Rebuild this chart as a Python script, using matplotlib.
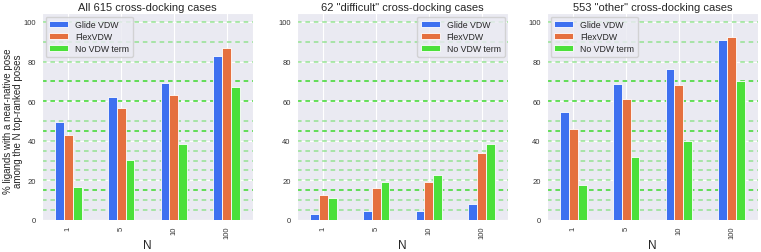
import matplotlib
matplotlib.use("Agg")
import matplotlib.pyplot as plt
import seaborn as sns
import numpy as np

sns.set_style("darkgrid")
plt.rcParams['font.family'] = ['Liberation Sans', 'DejaVu Sans']

n_labels = ["1", "5", "10", "100"]
series_names = ["Glide VDW", "FlexVDW", "No VDW term"]
titles = ["All 615 cross-docking cases", '62 "difficult" cross-docking cases',
          '553 "other" cross-docking cases']

all_glide = [49.5, 62, 69, 83]
all_flex = [43, 56.5, 63, 87]
all_novdw = [16.5, 30.5, 38.5, 67]

diff_glide = [3, 4.5, 4.5, 8]
diff_flex = [12.5, 16, 19, 34]
diff_novdw = [11, 19, 22.5, 38.5]

oth_glide = [54.5, 68.5, 76, 91]
oth_flex = [46, 61, 68, 92.5]
oth_novdw = [17.5, 32, 40, 70]

light_levels = [5, 10, 20, 25, 30, 35, 40, 50, 80, 90, 100]
dark_levels = [15, 45, 60, 70]

colors = ["#3E70F0", "#E5703F", "#4BE03A"]

panels = [(all_glide, all_flex, all_novdw), (diff_glide, diff_flex, diff_novdw),
          (oth_glide, oth_flex, oth_novdw)]
legend_locs = ["upper left", "upper right", "upper left"]

fig = plt.figure(figsize=(7.61, 2.53), dpi=100)
lefts = [42, 297, 547]
for k, (data, title) in enumerate(zip(panels, titles)):
    ax = fig.add_axes([lefts[k] / 761, 32 / 253, 211 / 761, 207 / 253])
    x = np.arange(len(n_labels))
    w = 0.5 / 3
    for j, (vals, name) in enumerate(zip(data, series_names)):
        ax.bar(x + (j - 1) * w, vals, w, color=colors[j], label=name,
               edgecolor="white", linewidth=0.6, zorder=3)
    for lv in light_levels:
        ax.axhline(lv, color="#7FE07A", ls=(0, (3, 2.5)), lw=1.1, alpha=0.8, zorder=1)
    for lv in dark_levels:
        ax.axhline(lv, color="#3CD82C", ls=(0, (3, 2.5)), lw=1.1, zorder=1)
    ax.set_xlim(-0.5, 3.5)
    ax.set_ylim(0, 104.5)
    ax.set_xticks(x)
    ax.set_xticklabels(n_labels, rotation=90)
    ax.set_yticks([0, 20, 40, 60, 80, 100])
    ax.tick_params(axis="both", labelsize=5.5, colors="#333333", length=0)
    ax.tick_params(axis="y", pad=4.5)
    ax.tick_params(axis="x", pad=4)
    ax.set_title(title, fontsize=8, pad=2)
    ax.set_xlabel("N", fontsize=8.5)
    ax.xaxis.set_label_coords(0.5, -0.09)
    if k == 0:
        ax.set_ylabel("% ligands with a near-native pose\namong the N top-ranked poses",
                      fontsize=7, linespacing=1.05)
        ax.yaxis.set_label_coords(-0.09, 0.48)
    ax.legend(loc=legend_locs[k], fontsize=6.3, frameon=True, handlelength=2.1,
              handleheight=0.7, borderpad=0.45, labelspacing=0.32, borderaxespad=0.4)

fig.savefig("out.png", dpi=100)
